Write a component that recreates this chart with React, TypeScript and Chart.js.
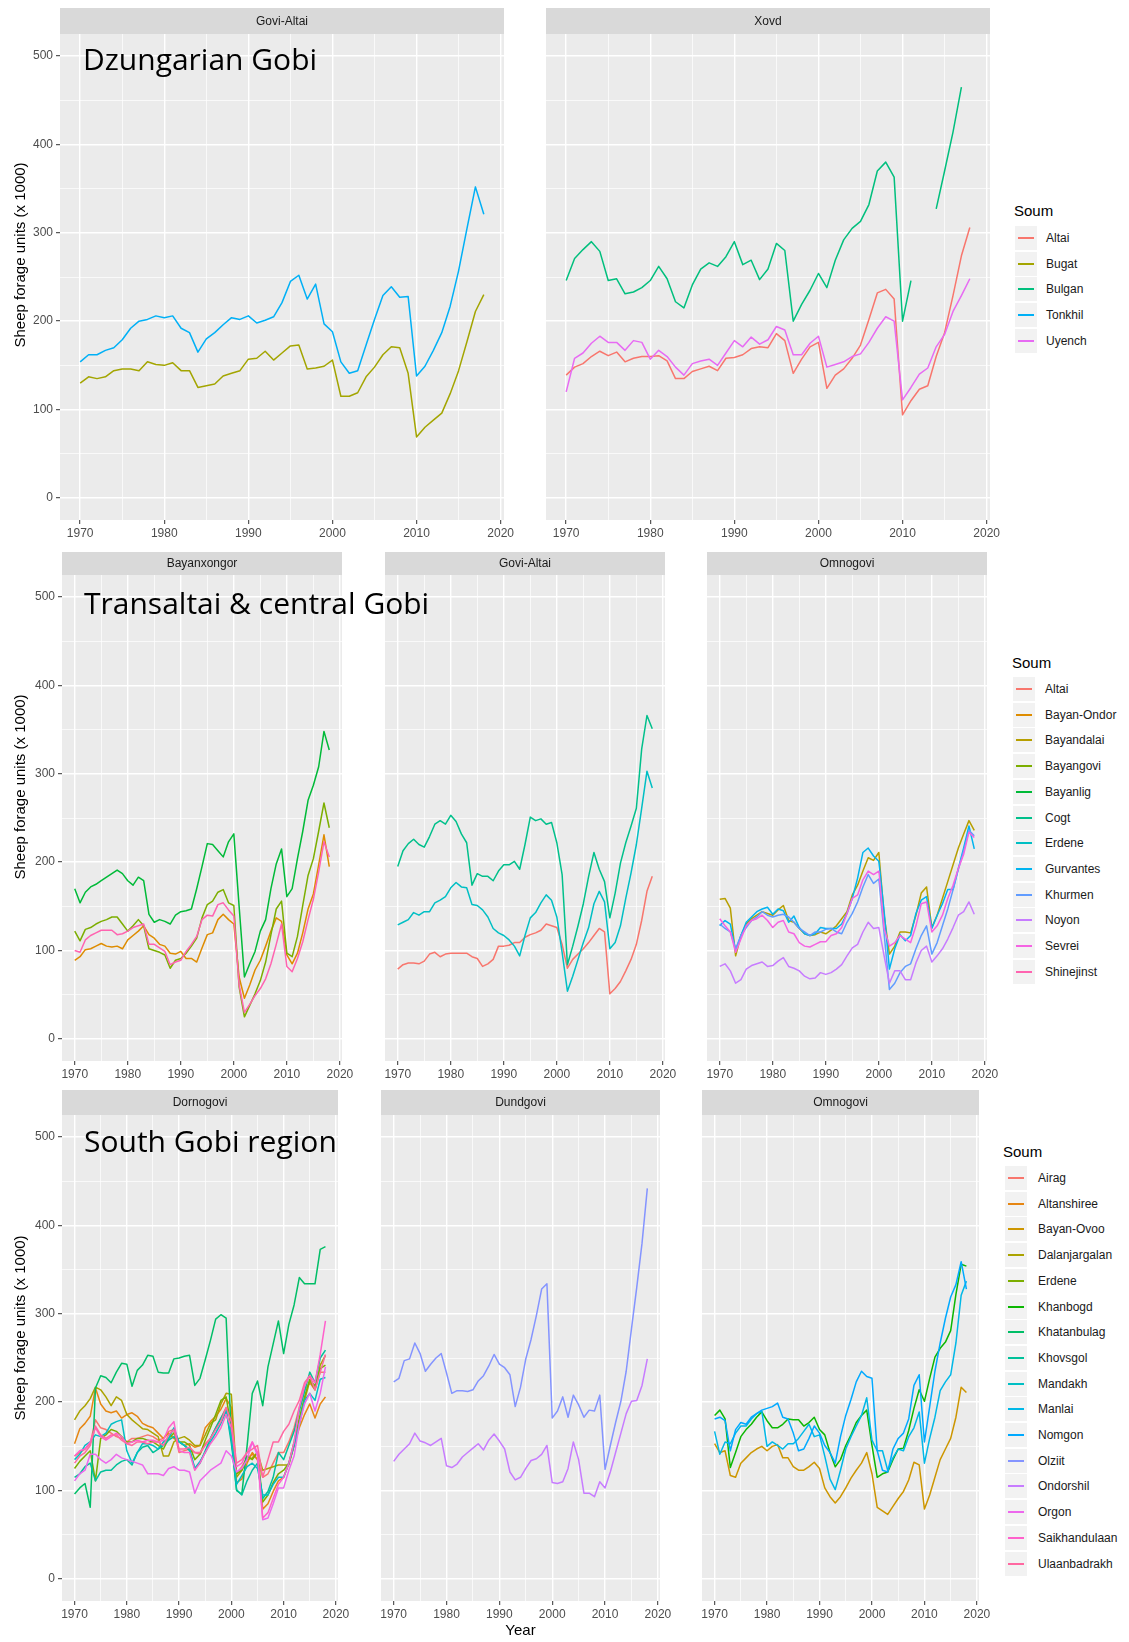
import React, { useEffect, useRef } from 'react';
import { Chart, registerables } from 'chart.js';

Chart.register(...registerables);

const FONT = '"Liberation Sans", Arial, Helvetica, sans-serif';

// ---------- categories & ticks ----------
const years = [
  1970, 1971, 1972, 1973, 1974, 1975, 1976, 1977, 1978, 1979,
  1980, 1981, 1982, 1983, 1984, 1985, 1986, 1987, 1988, 1989,
  1990, 1991, 1992, 1993, 1994, 1995, 1996, 1997, 1998, 1999,
  2000, 2001, 2002, 2003, 2004, 2005, 2006, 2007, 2008, 2009,
  2010, 2011, 2012, 2013, 2014, 2015, 2016, 2017, 2018,
];
const xTickValues = [1970, 1975, 1980, 1985, 1990, 1995, 2000, 2005, 2010, 2015, 2020];
const yTickValues = [0, 50, 100, 150, 200, 250, 300, 350, 400, 450, 500];
const xMin = 1967.6;
const xMax = 2020.4;
const yMin = -25;
const yMax = 525;

// ---------- legends ----------
const row1Soums = ['Altai', 'Bugat', 'Bulgan', 'Tonkhil', 'Uyench'];
const row1Colors = ['#F8766D', '#A3A500', '#00BF7D', '#00B0F6', '#E76BF3'];
const row2Soums = ['Altai', 'Bayan-Ondor', 'Bayandalai', 'Bayangovi', 'Bayanlig', 'Cogt', 'Erdene', 'Gurvantes', 'Khurmen', 'Noyon', 'Sevrei', 'Shinejinst'];
const row2Colors = ['#F8766D', '#DE8C00', '#B79F00', '#7CAE00', '#00BA38', '#00C08B', '#00BFC4', '#00B4F0', '#619CFF', '#C77CFF', '#F564E3', '#FF64B0'];
const row3Soums = ['Airag', 'Altanshiree', 'Bayan-Ovoo', 'Dalanjargalan', 'Erdene', 'Khanbogd', 'Khatanbulag', 'Khovsgol', 'Mandakh', 'Manlai', 'Nomgon', 'Olziit', 'Ondorshil', 'Orgon', 'Saikhandulaan', 'Ulaanbadrakh'];
const row3Colors = ['#F8766D', '#E68613', '#CD9600', '#ABA300', '#7CAE00', '#0CB702', '#00BE67', '#00C19A', '#00BFC4', '#00B8E7', '#00A9FF', '#8494FF', '#C77CFF', '#ED68ED', '#FF61CC', '#FF68A1'];

// ---------- Row 1: Dzungarian Gobi ----------
// Govi-Altai
const r1GaTonkhil = [154, 162, 162, 167, 170, 179, 192, 200, 202, 206, 204, 206, 192, 187, 165, 180, 187, 196, 204, 202, 206, 198, 201, 205, 221, 245, 252, 225, 242, 197, 188, 154, 141, 144, 173, 202, 229, 239, 227, 228, 138, 149, 167, 187, 217, 257, 305, 352, 321];
const r1GaBugat = [130, 137, 135, 137, 144, 146, 146, 144, 154, 151, 150, 153, 144, 144, 125, 127, 129, 138, 141, 144, 157, 158, 166, 156, 164, 172, 173, 146, 147, 149, 156, 115, 115, 119, 137, 148, 162, 171, 170, 141, 69, 80, 88, 96, 118, 144, 177, 211, 230];
// Xovd
const r1XoBulgan = [246, 271, 281, 290, 279, 246, 248, 231, 233, 238, 246, 262, 248, 222, 215, 241, 259, 266, 262, 273, 290, 264, 269, 247, 259, 288, 280, 200, 219, 235, 254, 238, 269, 292, 305, 313, 332, 370, 380, 363, 200, 246, null, null, 327, 370, 414, 465, null];
const r1XoAltai = [139, 148, 152, 160, 166, 161, 165, 154, 158, 160, 160, 161, 155, 135, 135, 143, 146, 149, 144, 158, 159, 162, 169, 171, 170, 186, 178, 141, 157, 171, 176, 124, 139, 146, 158, 173, 202, 232, 236, 225, 94, 110, 123, 127, 160, 187, 229, 274, 306];
const r1XoUyench = [120, 158, 164, 175, 183, 176, 176, 167, 178, 176, 157, 167, 160, 148, 139, 152, 155, 157, 150, 164, 178, 171, 182, 174, 179, 194, 190, 162, 162, 175, 183, 148, 151, 154, 160, 163, 176, 192, 205, 200, 111, 125, 140, 147, 171, 185, 211, 229, 248];

// ---------- Row 2: Transaltai & central Gobi ----------
// Bayanxongor
const r2BxBayanlig = [170, 154, 166, 172, 175, 179, 183, 187, 191, 187, 179, 174, 183, 179, 141, 132, 135, 133, 130, 140, 144, 145, 147, 170, 195, 221, 220, 213, 206, 223, 232, 150, 70, 85, 99, 122, 135, 170, 198, 215, 161, 170, 204, 235, 270, 287, 308, 348, 327];
const r2BxBayangovi = [122, 111, 124, 126, 130, 133, 135, 138, 138, 130, 122, 128, 135, 128, 102, 100, 98, 95, 80, 89, 91, 97, 105, 114, 137, 152, 156, 166, 169, 154, 151, 59, 25, 38, 51, 66, 87, 118, 147, 156, 97, 93, 116, 151, 185, 204, 235, 267, 239];
const r2BxBayanOndor = [89, 93, 101, 102, 105, 108, 105, 104, 105, 102, 112, 117, 122, 128, 118, 114, 107, 105, 97, 96, 99, 91, 91, 87, 103, 118, 120, 135, 141, 135, 130, 70, 46, 61, 78, 89, 105, 122, 137, 133, 95, 85, 97, 120, 147, 164, 197, 231, 195];
const r2BxShinejinst = [100, 98, 112, 117, 120, 123, 123, 123, 118, 119, 122, 126, 128, 130, 107, 107, 103, 99, 84, 87, 89, 99, 107, 116, 135, 140, 139, 152, 154, 146, 139, 61, 30, 39, 49, 57, 68, 85, 107, 130, 82, 76, 91, 110, 135, 158, 189, 223, 206];
// Govi-Altai
const r2GaCogt = [195, 213, 221, 226, 220, 217, 229, 243, 247, 243, 253, 246, 232, 222, 174, 187, 184, 184, 179, 190, 197, 197, 201, 192, 220, 251, 247, 249, 243, 245, 222, 186, 84, 105, 128, 153, 184, 211, 192, 178, 137, 165, 199, 222, 241, 261, 328, 366, 351];
const r2GaErdene = [129, 132, 135, 143, 140, 144, 144, 154, 157, 161, 171, 177, 172, 171, 152, 151, 146, 138, 125, 120, 117, 112, 105, 94, 117, 137, 143, 154, 163, 157, 138, 98, 54, 71, 90, 109, 126, 153, 167, 155, 102, 109, 128, 159, 188, 220, 261, 303, 284];
const r2GaAltai = [79, 84, 86, 86, 85, 88, 96, 98, 93, 96, 97, 97, 97, 97, 93, 91, 82, 85, 90, 105, 105, 106, 109, 109, 115, 118, 120, 123, 130, 128, 126, 107, 80, 90, 96, 102, 109, 117, 125, 121, 51, 57, 65, 77, 90, 107, 134, 167, 184];
// Omnogovi
const r2OmBayandalai = [158, 159, 148, 94, 117, 130, 136, 140, 144, 142, 140, 146, 151, 134, 132, 125, 119, 117, 118, 121, 119, 123, 128, 136, 144, 163, 174, 190, 205, 202, 211, 140, 96, 105, 121, 121, 120, 140, 165, 172, 126, 140, 159, 178, 197, 216, 232, 247, 236];
const r2OmGurvantes = [128, 134, 130, 100, 117, 132, 138, 144, 147, 149, 141, 147, 145, 132, 139, 126, 119, 117, 119, 126, 125, 125, 125, 130, 142, 159, 182, 211, 216, 207, 201, 144, 79, 102, 118, 111, 117, 142, 157, 161, 125, 140, 153, 169, 169, 193, 216, 241, 215];
const r2OmKhurmen = [130, 125, 121, 102, 117, 126, 134, 138, 144, 140, 138, 140, 141, 138, 132, 125, 121, 117, 121, 121, 124, 125, 121, 119, 132, 142, 155, 172, 186, 176, 181, 119, 56, 63, 75, 82, 85, 102, 117, 128, 96, 109, 128, 147, 169, 192, 213, 236, 230];
const r2OmNoyon = [82, 85, 77, 63, 67, 79, 83, 85, 87, 82, 83, 88, 92, 82, 80, 77, 71, 68, 69, 75, 73, 75, 79, 84, 94, 103, 107, 121, 132, 125, 126, 94, 63, 77, 77, 67, 67, 86, 100, 105, 87, 94, 102, 113, 126, 140, 144, 155, 141];
const r2OmSevrei = [136, 128, 121, 98, 113, 128, 134, 136, 140, 134, 126, 132, 134, 121, 119, 109, 105, 104, 107, 110, 110, 117, 119, 126, 142, 159, 163, 180, 190, 186, 190, 125, 105, 109, 117, 113, 109, 128, 153, 155, 121, 128, 140, 159, 174, 193, 209, 234, 228];

// ---------- Row 3: South Gobi region ----------
// Dornogovi
const r3DoAirag = [139, 143, 147, 153, 180, 171, 169, 165, 161, 159, 155, 159, 159, 161, 163, 161, 157, 159, 167, 169, 143, 145, 147, 143, 141, 153, 159, 171, 182, 194, 182, 119, 127, 137, 141, 135, 115, 119, 131, 143, 143, 155, 171, 194, 214, 222, 214, 234, 234];
const r3DoAltanshiree = [153, 170, 176, 184, 216, 198, 190, 188, 190, 182, 186, 188, 184, 176, 173, 171, 165, 159, 165, 159, 155, 151, 153, 149, 151, 171, 178, 184, 192, 204, 194, 109, 113, 131, 143, 135, 79, 85, 99, 111, 115, 131, 151, 171, 186, 198, 182, 198, 206];
const r3DoDalanjargalan = [180, 190, 196, 204, 217, 214, 206, 196, 206, 202, 186, 180, 175, 170, 169, 165, 161, 139, 139, 155, 159, 161, 157, 151, 151, 163, 176, 180, 198, 210, 209, 115, 123, 135, 137, 143, 123, 125, 127, 129, 129, 129, 151, 175, 202, 224, 214, 242, 253];
const r3DoErdene = [125, 133, 139, 145, 111, 159, 163, 169, 167, 161, 155, 155, 159, 159, 157, 155, 151, 147, 159, 165, 155, 155, 151, 135, 141, 157, 171, 186, 202, 206, 171, 119, 123, 139, 135, 143, 87, 95, 109, 119, 123, 131, 155, 182, 206, 226, 218, 238, 242];
const r3DoKhatanbulag = [96, 103, 108, 81, 216, 230, 228, 222, 234, 244, 243, 218, 236, 242, 253, 252, 234, 233, 233, 249, 250, 252, 253, 219, 227, 248, 270, 294, 299, 295, 160, 100, 96, 150, 210, 224, 196, 240, 266, 292, 255, 288, 310, 341, 334, 334, 334, 373, 376];
const r3DoKhovsgol = [115, 119, 127, 131, 111, 121, 123, 123, 129, 133, 135, 129, 143, 149, 151, 143, 147, 151, 157, 161, 155, 151, 145, 125, 131, 145, 159, 171, 182, 192, 153, 101, 95, 111, 123, 131, 91, 99, 115, 143, 135, 151, 167, 190, 212, 234, 222, 250, 259];
const r3DoMandakh = [135, 141, 151, 155, 163, 161, 165, 175, 178, 180, 145, 131, 143, 153, 153, 151, 147, 155, 159, 171, 155, 151, 147, 125, 133, 143, 155, 165, 176, 190, 159, 107, 117, 127, 131, 125, 95, 95, 107, 115, 115, 131, 151, 175, 202, 210, 202, 226, 228];
const r3DoOrgon = [111, 119, 123, 141, 141, 135, 131, 135, 141, 137, 135, 133, 131, 129, 119, 119, 119, 117, 125, 127, 123, 123, 121, 97, 111, 117, 123, 127, 131, 145, 139, 121, 125, 135, 155, 139, 67, 69, 85, 103, 103, 123, 139, 175, 198, 210, 190, 210, 240];
const r3DoSaikhandulaan = [139, 145, 147, 155, 171, 161, 157, 161, 165, 161, 153, 155, 157, 155, 157, 157, 155, 157, 171, 178, 145, 143, 143, 123, 131, 143, 153, 161, 171, 186, 171, 127, 131, 143, 155, 143, 69, 75, 91, 107, 115, 131, 155, 194, 218, 230, 222, 254, 292];
const r3DoUlaanbadrakh = [131, 139, 143, 151, 173, 163, 159, 163, 163, 157, 153, 151, 155, 155, 153, 155, 155, 151, 163, 169, 147, 147, 149, 143, 143, 151, 159, 169, 178, 194, 178, 131, 135, 143, 147, 151, 115, 135, 155, 155, 167, 175, 190, 202, 222, 230, 214, 234, 254];
// Dundgovi
const r3DuOlziit = [223, 227, 247, 249, 267, 255, 235, 243, 250, 255, 233, 210, 213, 213, 212, 214, 224, 230, 241, 254, 243, 239, 231, 195, 217, 249, 271, 298, 328, 334, 182, 190, 206, 183, 208, 197, 183, 191, 190, 208, 124, 151, 177, 201, 235, 283, 330, 380, 442];
const r3DuOndorshil = [133, 141, 147, 153, 165, 156, 154, 151, 155, 159, 128, 126, 130, 138, 143, 148, 153, 146, 157, 164, 156, 147, 121, 112, 115, 125, 134, 136, 141, 151, 109, 108, 110, 125, 155, 135, 97, 97, 93, 110, 103, 121, 143, 165, 187, 201, 202, 219, 249];
// Omnogovi
const r3OmBayanOvoo = [153, 143, 145, 117, 115, 131, 137, 143, 147, 150, 145, 150, 152, 137, 137, 127, 123, 123, 127, 132, 125, 103, 93, 86, 93, 103, 114, 123, 131, 143, 119, 81, 77, 73, 82, 91, 99, 112, 132, 129, 79, 95, 115, 135, 147, 159, 183, 217, 211];
const r3OmKhanbogd = [185, 191, 181, 126, 143, 161, 169, 175, 183, 189, 179, 171, 171, 175, 181, 180, 180, 173, 177, 183, 169, 163, 143, 127, 135, 151, 163, 177, 185, 191, 151, 115, 119, 121, 135, 147, 148, 168, 193, 214, 201, 227, 251, 261, 268, 281, 322, 356, 354];
const r3OmNomgon = [181, 183, 179, 145, 169, 177, 175, 183, 187, 191, 193, 195, 199, 183, 181, 165, 145, 147, 159, 173, 165, 151, 143, 131, 161, 185, 203, 223, 235, 229, 227, 145, 123, 121, 147, 159, 165, 181, 219, 231, 155, 195, 235, 267, 295, 319, 333, 359, 328];
const r3OmManlai = [167, 141, 155, 153, 165, 173, 173, 181, 187, 190, 150, 155, 151, 147, 153, 153, 159, 167, 175, 161, 163, 139, 113, 101, 123, 147, 161, 173, 185, 205, 157, 145, 145, 123, 137, 147, 145, 161, 171, 189, 131, 159, 183, 213, 223, 231, 267, 321, 337];

// ---------- layout (positions only) ----------
const ROW1 = { stripTop: 8, plotTop: 34, plotBottom: 520, canvasBottom: 546 };
const ROW2 = { stripTop: 552, plotTop: 575, plotBottom: 1061, canvasBottom: 1087 };
const ROW3 = { stripTop: 1090, plotTop: 1115, plotBottom: 1601, canvasBottom: 1642 };

const panels = [
  { title: 'Govi-Altai', row: ROW1, left: 60, right: 504, showY: true, soums: row1Soums, colors: row1Colors,
    series: [['Bugat', r1GaBugat], ['Tonkhil', r1GaTonkhil]] },
  { title: 'Xovd', row: ROW1, left: 546, right: 990, showY: false, soums: row1Soums, colors: row1Colors,
    series: [['Altai', r1XoAltai], ['Bulgan', r1XoBulgan], ['Uyench', r1XoUyench]] },
  { title: 'Bayanxongor', row: ROW2, left: 62, right: 342, showY: true, soums: row2Soums, colors: row2Colors,
    series: [['Bayan-Ondor', r2BxBayanOndor], ['Bayangovi', r2BxBayangovi], ['Bayanlig', r2BxBayanlig], ['Shinejinst', r2BxShinejinst]] },
  { title: 'Govi-Altai', row: ROW2, left: 385, right: 665, showY: false, soums: row2Soums, colors: row2Colors,
    series: [['Altai', r2GaAltai], ['Cogt', r2GaCogt], ['Erdene', r2GaErdene]] },
  { title: 'Omnogovi', row: ROW2, left: 707, right: 987, showY: false, soums: row2Soums, colors: row2Colors,
    series: [['Bayandalai', r2OmBayandalai], ['Gurvantes', r2OmGurvantes], ['Khurmen', r2OmKhurmen], ['Noyon', r2OmNoyon], ['Sevrei', r2OmSevrei]] },
  { title: 'Dornogovi', row: ROW3, left: 62, right: 338, showY: true, soums: row3Soums, colors: row3Colors,
    series: [['Airag', r3DoAirag], ['Altanshiree', r3DoAltanshiree], ['Dalanjargalan', r3DoDalanjargalan], ['Erdene', r3DoErdene], ['Khatanbulag', r3DoKhatanbulag], ['Khovsgol', r3DoKhovsgol], ['Mandakh', r3DoMandakh], ['Orgon', r3DoOrgon], ['Saikhandulaan', r3DoSaikhandulaan], ['Ulaanbadrakh', r3DoUlaanbadrakh]] },
  { title: 'Dundgovi', row: ROW3, left: 381, right: 660, showY: false, xTitle: 'Year', soums: row3Soums, colors: row3Colors,
    series: [['Olziit', r3DuOlziit], ['Ondorshil', r3DuOndorshil]] },
  { title: 'Omnogovi', row: ROW3, left: 702, right: 979, showY: false, soums: row3Soums, colors: row3Colors,
    series: [['Bayan-Ovoo', r3OmBayanOvoo], ['Khanbogd', r3OmKhanbogd], ['Manlai', r3OmManlai], ['Nomgon', r3OmNomgon]] },
];

const legends = [
  { soums: row1Soums, colors: row1Colors, titleX: 1014, titleY: 210, keyX: 1015, firstY: 238, labelX: 1046 },
  { soums: row2Soums, colors: row2Colors, titleX: 1012, titleY: 662, keyX: 1013, firstY: 689, labelX: 1045 },
  { soums: row3Soums, colors: row3Colors, titleX: 1003, titleY: 1151, keyX: 1005, firstY: 1178, labelX: 1038 },
];

const regionLabels = [
  { text: 'Dzungarian Gobi', x: 83, top: 44 },
  { text: 'Transaltai & central Gobi', x: 84, top: 588 },
  { text: 'South Gobi region', x: 84, top: 1126 },
];

const yTitles = [
  { cy: 255 },
  { cy: 787 },
  { cy: 1328 },
];

// ---------- plugin: panel background + facet strip ----------
const facetPlugin = {
  id: 'facet',
  beforeDraw(chart: any, _args: any, opts: any) {
    const { ctx, chartArea: a } = chart;
    ctx.save();
    ctx.fillStyle = '#EBEBEB';
    ctx.fillRect(a.left, a.top, a.right - a.left, a.bottom - a.top);
    ctx.fillStyle = '#D9D9D9';
    ctx.fillRect(a.left, 0, a.right - a.left, a.top);
    ctx.fillStyle = '#1A1A1A';
    ctx.font = `12px ${FONT}`;
    ctx.textAlign = 'center';
    ctx.textBaseline = 'middle';
    ctx.fillText(opts.text || '', (a.left + a.right) / 2, a.top / 2 + 0.5);
    ctx.restore();
  },
};

function gridOpts(majorStep: number, drawTicks: boolean) {
  return {
    color: '#FFFFFF',
    lineWidth: (c: any) => (c.tick && c.tick.value % majorStep === 0 ? 1.4 : 0.7),
    drawTicks,
    tickLength: 4,
    tickWidth: 1,
    tickColor: (c: any) => (c.tick && c.tick.value % majorStep === 0 ? '#333333' : 'rgba(0,0,0,0)'),
  };
}

function Panel({ spec }: { spec: any }) {
  const ref = useRef<HTMLCanvasElement>(null);
  const padL = spec.showY ? 0 : 15;
  const padR = 15;
  const canvasLeft = spec.showY ? 0 : spec.left - padL;
  const canvasTop = spec.row.stripTop;
  const W = spec.right + padR - canvasLeft;
  const H = spec.row.canvasBottom - canvasTop;
  const stripH = spec.row.plotTop - spec.row.stripTop;
  const yAxisW = spec.showY ? spec.left : 0;
  const xAxisH = spec.row.canvasBottom - spec.row.plotBottom;

  useEffect(() => {
    if (!ref.current) return;
    const datasets = spec.series
      .map(([soum, values]: [string, (number | null)[]]) => ({
        label: soum,
        data: years.map((yr, i) => ({ x: yr, y: values[i] })),
        borderColor: spec.colors[spec.soums.indexOf(soum)],
        backgroundColor: spec.colors[spec.soums.indexOf(soum)],
        borderWidth: 1.5,
        borderJoinStyle: 'round',
        pointRadius: 0,
        pointHoverRadius: 0,
        fill: false,
        tension: 0,
        spanGaps: false,
      }))
      .reverse();

    const chart = new Chart(ref.current, {
      type: 'line',
      data: { datasets },
      options: {
        responsive: false,
        animation: false,
        devicePixelRatio: 1,
        events: [],
        layout: { padding: { top: stripH, left: padL, right: padR, bottom: 0 } },
        plugins: {
          legend: { display: false },
          tooltip: { enabled: false },
          facet: { text: spec.title },
        } as any,
        scales: {
          x: {
            type: 'linear',
            min: xMin,
            max: xMax,
            afterBuildTicks: (ax: any) => {
              ax.ticks = xTickValues.map((v) => ({ value: v }));
            },
            afterFit: (ax: any) => {
              ax.height = xAxisH;
            },
            grid: gridOpts(10, true),
            border: { display: false },
            ticks: {
              autoSkip: false,
              maxRotation: 0,
              minRotation: 0,
              padding: 2,
              color: '#4D4D4D',
              font: { family: FONT, size: 12 },
              callback: (v: any) => (Number(v) % 10 === 0 ? String(v) : ''),
            },
            title: spec.xTitle
              ? { display: true, text: spec.xTitle, color: '#000000', font: { family: FONT, size: 15 }, padding: { top: 0, bottom: 2 } }
              : { display: false },
          },
          y: {
            type: 'linear',
            min: yMin,
            max: yMax,
            afterBuildTicks: (ax: any) => {
              ax.ticks = yTickValues.map((v) => ({ value: v }));
            },
            afterFit: (ax: any) => {
              ax.width = yAxisW;
            },
            grid: gridOpts(100, spec.showY),
            border: { display: false },
            ticks: {
              display: spec.showY,
              autoSkip: false,
              padding: 3,
              color: '#4D4D4D',
              font: { family: FONT, size: 12 },
              callback: (v: any) => (Number(v) % 100 === 0 ? String(v) : ''),
            },
          },
        },
      } as any,
      plugins: [facetPlugin],
    });
    return () => chart.destroy();
  }, []);

  return (
    <canvas
      ref={ref}
      width={W}
      height={H}
      style={{ position: 'absolute', left: canvasLeft, top: canvasTop, width: W, height: H, display: 'block' }}
    />
  );
}

function Legend({ spec }: { spec: any }) {
  const step = 25.7;
  return (
    <>
      <div style={{ position: 'absolute', left: spec.titleX, top: spec.titleY, transform: 'translateY(-50%)', font: `15px ${FONT}`, color: '#000', whiteSpace: 'nowrap' }}>
        Soum
      </div>
      {spec.soums.map((s: string, i: number) => {
        const cy = Math.round(spec.firstY + i * step);
        return (
          <React.Fragment key={s}>
            <div style={{ position: 'absolute', left: spec.keyX, top: cy - 12, width: 22, height: 24, background: '#F2F2F2' }}>
              <div style={{ position: 'absolute', left: 3, width: 16, top: 11, height: 2, background: spec.colors[i] }} />
            </div>
            <div style={{ position: 'absolute', left: spec.labelX, top: cy, transform: 'translateY(-50%)', font: `12px ${FONT}`, color: '#1A1A1A', whiteSpace: 'nowrap' }}>
              {s}
            </div>
          </React.Fragment>
        );
      })}
    </>
  );
}

export default function App() {
  return (
    <div style={{ position: 'absolute', left: 0, top: 0, width: 1129, height: 1642, background: '#FFFFFF', overflow: 'hidden' }}>
      {panels.map((p, i) => (
        <Panel key={i} spec={p} />
      ))}
      {legends.map((l, i) => (
        <Legend key={i} spec={l} />
      ))}
      {yTitles.map((t, i) => (
        <div
          key={i}
          style={{ position: 'absolute', left: 18.5, top: t.cy, transform: 'translate(-50%, -50%) rotate(-90deg)', font: `15px ${FONT}`, color: '#000', whiteSpace: 'nowrap' }}
        >
          Sheep forage units (x 1000)
        </div>
      ))}
      {regionLabels.map((r, i) => (
        <div
          key={i}
          style={{ position: 'absolute', left: r.x, top: r.top, font: `30px "Open Sans", sans-serif`, lineHeight: '30px', color: '#000', whiteSpace: 'nowrap' }}
        >
          {r.text}
        </div>
      ))}
    </div>
  );
}
